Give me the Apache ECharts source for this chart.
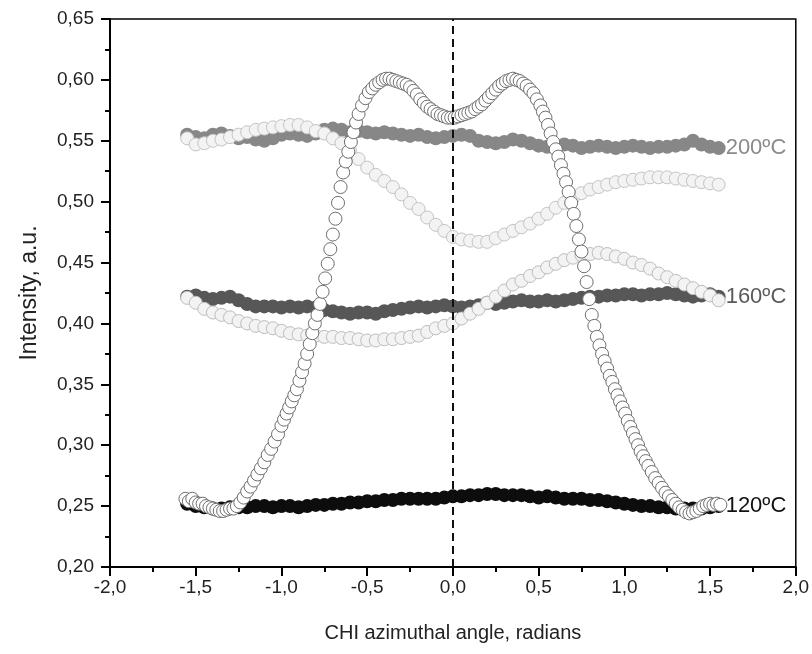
<!DOCTYPE html>
<html>
<head>
<meta charset="utf-8">
<script src="https://cdn.jsdelivr.net/npm/echarts@6/dist/echarts.min.js"></script>
<style>html,body{margin:0;padding:0;background:#fff;}#c{width:812px;height:654px;}</style>
</head>
<body>
<div id="c"></div>
<script>
// ---- data ----
const xTitle = 'CHI azimuthal angle, radians';
const yTitle = 'Intensity, a.u.';
const seriesLabels = ['200ºC', '160ºC', '120ºC'];

const xGrid = [-1.55,-1.50,-1.45,-1.40,-1.35,-1.30,-1.25,-1.20,-1.15,-1.10,
  -1.05,-1.00,-0.95,-0.90,-0.85,-0.80,-0.75,-0.70,-0.65,-0.60,
  -0.55,-0.50,-0.45,-0.40,-0.35,-0.30,-0.25,-0.20,-0.15,-0.10,
  -0.05,0.00,0.05,0.10,0.15,0.20,0.25,0.30,0.35,0.40,
  0.45,0.50,0.55,0.60,0.65,0.70,0.75,0.80,0.85,0.90,
  0.95,1.00,1.05,1.10,1.15,1.20,1.25,1.30,1.35,1.40,
  1.45,1.50,1.55];

const filled200 = [0.555,0.553,0.552,0.555,0.556,0.554,0.552,0.553,0.551,0.550,
  0.552,0.555,0.556,0.555,0.554,0.556,0.559,0.560,0.559,0.557,
  0.558,0.557,0.556,0.557,0.556,0.555,0.554,0.555,0.553,0.552,
  0.553,0.554,0.555,0.554,0.550,0.549,0.548,0.549,0.551,0.550,
  0.548,0.546,0.545,0.546,0.547,0.546,0.544,0.545,0.546,0.545,
  0.544,0.545,0.546,0.545,0.544,0.545,0.545,0.546,0.547,0.550,
  0.547,0.545,0.544];

const open200 = [0.552,0.547,0.548,0.550,0.551,0.553,0.555,0.557,0.559,0.560,
  0.561,0.562,0.563,0.563,0.561,0.558,0.556,0.552,0.548,0.542,
  0.535,0.528,0.522,0.517,0.512,0.506,0.499,0.494,0.487,0.481,
  0.476,0.471,0.469,0.468,0.467,0.467,0.470,0.473,0.476,0.479,
  0.482,0.486,0.490,0.495,0.499,0.503,0.507,0.510,0.512,0.514,
  0.516,0.517,0.518,0.519,0.520,0.520,0.520,0.519,0.518,0.517,
  0.516,0.515,0.514];

const filled160 = [0.422,0.423,0.421,0.420,0.421,0.422,0.419,0.416,0.414,0.414,
  0.414,0.413,0.414,0.413,0.414,0.413,0.411,0.410,0.409,0.408,
  0.409,0.409,0.408,0.410,0.411,0.412,0.413,0.414,0.413,0.414,
  0.415,0.414,0.413,0.414,0.415,0.417,0.416,0.417,0.418,0.419,
  0.418,0.418,0.419,0.418,0.419,0.420,0.421,0.422,0.422,0.423,
  0.423,0.424,0.424,0.423,0.424,0.424,0.425,0.424,0.423,0.422,
  0.423,0.424,0.422];

const open160 = [0.421,0.417,0.412,0.409,0.407,0.405,0.402,0.400,0.398,0.397,
  0.396,0.394,0.392,0.391,0.390,0.390,0.389,0.389,0.388,0.388,
  0.387,0.386,0.386,0.387,0.387,0.388,0.389,0.390,0.393,0.396,
  0.398,0.400,0.404,0.408,0.412,0.417,0.422,0.427,0.432,0.435,
  0.439,0.442,0.446,0.449,0.452,0.454,0.456,0.457,0.458,0.457,
  0.455,0.453,0.450,0.448,0.445,0.441,0.438,0.435,0.432,0.429,
  0.426,0.423,0.419];

const filled120 = [0.252,0.250,0.249,0.248,0.248,0.249,0.249,0.249,0.250,0.250,
  0.249,0.250,0.250,0.249,0.250,0.251,0.251,0.252,0.252,0.253,
  0.253,0.254,0.254,0.255,0.255,0.256,0.256,0.256,0.256,0.256,
  0.257,0.258,0.258,0.259,0.259,0.260,0.260,0.259,0.259,0.259,
  0.258,0.257,0.258,0.257,0.256,0.256,0.256,0.255,0.255,0.254,
  0.253,0.252,0.251,0.250,0.250,0.249,0.249,0.248,0.248,0.248,
  0.248,0.249,0.250];

const peakX = [-1.56,-1.54,-1.52,-1.50,-1.48,-1.46,-1.44,-1.42,-1.40,-1.38,
  -1.36,-1.34,-1.32,-1.30,-1.28,-1.26,-1.24,-1.22,-1.20,-1.18,
  -1.16,-1.14,-1.12,-1.10,-1.08,-1.06,-1.04,-1.02,-1.00,-0.985,
  -0.97,-0.955,-0.94,-0.925,-0.91,-0.895,-0.88,-0.865,-0.85,-0.835,
  -0.82,-0.805,-0.79,-0.775,-0.76,-0.745,-0.73,-0.715,-0.70,-0.685,
  -0.67,-0.655,-0.64,-0.625,-0.61,-0.595,-0.58,-0.565,-0.55,-0.53,
  -0.51,-0.49,-0.47,-0.45,-0.43,-0.41,-0.39,-0.37,-0.35,-0.33,
  -0.31,-0.29,-0.27,-0.25,-0.23,-0.21,-0.19,-0.17,-0.15,-0.13,
  -0.11,-0.09,-0.07,-0.05,-0.03,-0.01,0.01,0.03,0.05,0.07,
  0.09,0.11,0.13,0.15,0.17,0.19,0.21,0.23,0.25,0.27,
  0.29,0.31,0.33,0.35,0.37,0.39,0.41,0.43,0.45,0.47,
  0.49,0.51,0.525,0.54,0.555,0.57,0.585,0.60,0.615,0.63,
  0.645,0.66,0.675,0.69,0.705,0.72,0.735,0.75,0.765,0.78,
  0.795,0.81,0.825,0.84,0.855,0.87,0.885,0.90,0.915,0.93,
  0.945,0.96,0.975,0.99,1.005,1.02,1.035,1.05,1.065,1.08,
  1.095,1.11,1.125,1.14,1.16,1.18,1.20,1.22,1.24,1.26,
  1.28,1.30,1.32,1.34,1.36,1.38,1.40,1.42,1.44,1.46,
  1.48,1.50,1.52,1.54,1.56];

const peakY = [0.256,0.254,0.256,0.253,0.252,0.252,0.250,0.249,0.248,0.247,
  0.246,0.246,0.247,0.248,0.248,0.250,0.253,0.257,0.262,0.266,
  0.271,0.276,0.281,0.286,0.292,0.297,0.303,0.309,0.316,0.321,
  0.326,0.331,0.336,0.341,0.346,0.353,0.360,0.367,0.375,0.383,
  0.392,0.400,0.407,0.416,0.426,0.437,0.449,0.461,0.473,0.486,
  0.499,0.512,0.524,0.533,0.541,0.549,0.557,0.565,0.572,0.579,
  0.585,0.590,0.593,0.596,0.598,0.600,0.601,0.601,0.600,0.599,
  0.598,0.597,0.596,0.594,0.591,0.588,0.584,0.581,0.578,0.576,
  0.574,0.572,0.571,0.570,0.569,0.569,0.569,0.570,0.571,0.572,
  0.573,0.574,0.576,0.578,0.580,0.583,0.586,0.589,0.592,0.595,
  0.597,0.599,0.600,0.601,0.600,0.599,0.597,0.595,0.592,0.589,
  0.584,0.579,0.574,0.569,0.563,0.556,0.549,0.543,0.537,0.530,
  0.523,0.516,0.508,0.499,0.490,0.480,0.469,0.459,0.447,0.434,
  0.420,0.407,0.398,0.389,0.382,0.375,0.369,0.363,0.357,0.352,
  0.346,0.341,0.336,0.331,0.326,0.320,0.315,0.310,0.305,0.300,
  0.295,0.291,0.287,0.283,0.278,0.273,0.269,0.265,0.261,0.258,
  0.255,0.252,0.249,0.247,0.245,0.244,0.245,0.246,0.248,0.250,
  0.251,0.252,0.251,0.252,0.251];

// ---- build ----
function pairs(xs, ys) { return xs.map((x, i) => [x, ys[i]]); }
function labelled(xs, ys, text, color) {
  const d = pairs(xs, ys);
  const last = d.length - 1;
  d[last] = {
    value: d[last],
    label: { show: true, position: 'right', distance: 0, formatter: text,
      color: color, fontSize: 22, fontFamily: 'Liberation Sans' }
  };
  return d;
}
const comma = (v, n) => v.toFixed(n).replace('.', ',');

const chart = echarts.init(document.getElementById('c'));
const font = 'Liberation Sans';
chart.setOption({
  animation: false,
  backgroundColor: '#fff',
  grid: { left: 110, right: 15, top: 19, bottom: 87, show: true, borderColor: '#000', borderWidth: 1.5 },
  xAxis: {
    type: 'value', min: -2, max: 2, interval: 0.5,
    name: xTitle, nameLocation: 'middle', nameGap: 56,
    nameTextStyle: { fontSize: 20, color: '#222', fontFamily: font },
    axisLine: { onZero: false, lineStyle: { color: '#000', width: 2 } },
    axisTick: { show: true, length: 9, lineStyle: { color: '#000', width: 2 } },
    minorTick: { show: true, splitNumber: 2, length: 5, lineStyle: { color: '#000', width: 2 } },
    axisLabel: { fontSize: 19, color: '#222', fontFamily: font, margin: 11, formatter: v => comma(v, 1) },
    splitLine: { show: false }
  },
  yAxis: {
    type: 'value', min: 0.2, max: 0.65, interval: 0.05,
    name: yTitle, nameLocation: 'middle', nameGap: 69,
    nameTextStyle: { fontSize: 23, color: '#222', fontFamily: font },
    axisLine: { onZero: false, lineStyle: { color: '#000', width: 2 } },
    axisTick: { show: true, length: 9, lineStyle: { color: '#000', width: 2 } },
    minorTick: { show: true, splitNumber: 2, length: 5, lineStyle: { color: '#000', width: 2 } },
    axisLabel: { fontSize: 19, color: '#222', fontFamily: font, margin: 16, formatter: v => comma(v, 2) },
    splitLine: { show: false }
  },
  series: [
    { type: 'scatter', name: '200 filled', symbolSize: 14, z: 2,
      itemStyle: { color: '#878787', opacity: 1 },
      data: labelled(xGrid, filled200, seriesLabels[0], '#8a8a8a') },
    { type: 'scatter', name: '160 filled', symbolSize: 14, z: 2,
      itemStyle: { color: '#575757', opacity: 1 },
      data: labelled(xGrid, filled160, seriesLabels[1], '#5a5a5a') },
    { type: 'scatter', name: '120 filled', symbolSize: 14, z: 2,
      itemStyle: { color: '#0d0d0d', opacity: 1 },
      data: labelled(xGrid, filled120, seriesLabels[2], '#111') },
    { type: 'scatter', name: '200 open', symbolSize: 13, z: 3,
      itemStyle: { color: '#f3f3f3', borderColor: '#c4c4c4', borderWidth: 1, opacity: 1 },
      data: pairs(xGrid, open200) },
    { type: 'scatter', name: '160 open', symbolSize: 13, z: 3,
      itemStyle: { color: '#f3f3f3', borderColor: '#bdbdbd', borderWidth: 1, opacity: 1 },
      data: pairs(xGrid, open160) },
    { type: 'scatter', name: '120 open', symbolSize: 13, z: 4,
      itemStyle: { color: '#ffffff', borderColor: '#6e6e6e', borderWidth: 1, opacity: 1 },
      data: pairs(peakX, peakY),
      markLine: {
        silent: true, symbol: 'none', label: { show: false },
        lineStyle: { color: '#111', type: [8, 5], width: 2 },
        data: [{ xAxis: 0 }]
      } }
  ]
});
</script>
</body>
</html>
